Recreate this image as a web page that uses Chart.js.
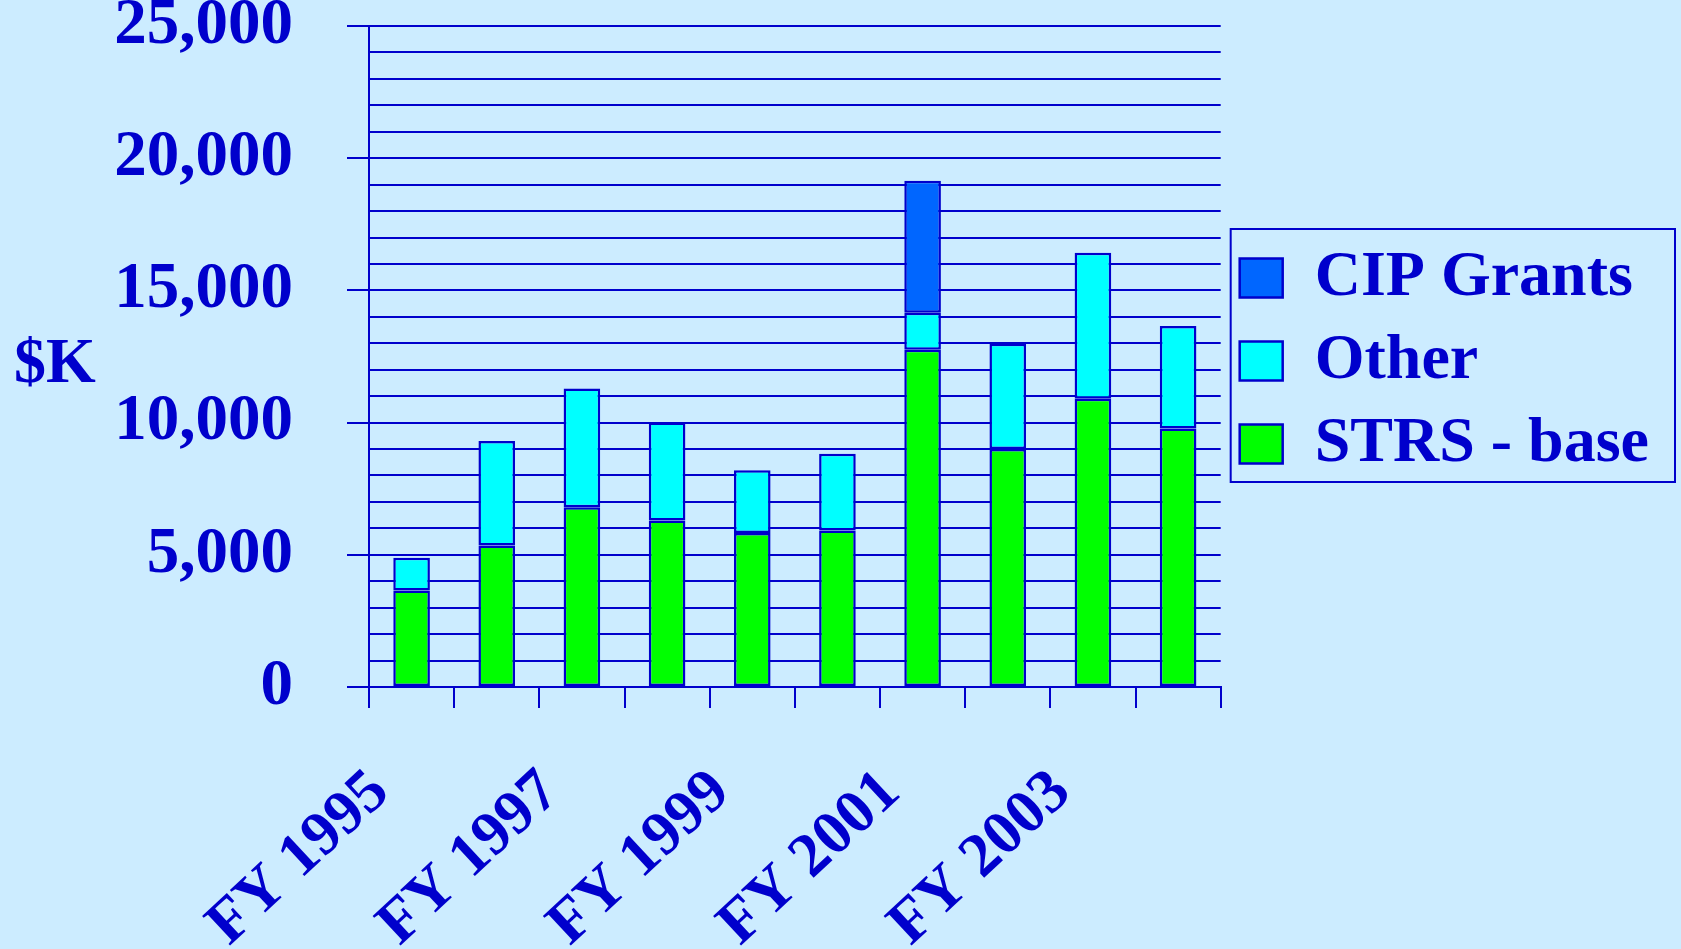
<!DOCTYPE html>
<html lang="en">
<head>
<meta charset="UTF-8">
<title>$K by fiscal year</title>
<script src="https://cdn.jsdelivr.net/npm/chart.js@4.4.1/dist/chart.umd.min.js"></script>
<style>
    html, body {
        margin: 0;
        padding: 0;
        background: #CCECFF;
        overflow: hidden;
    }
    #wrap {
        width: 1681px;
        height: 949px;
    }
</style>
</head>
<body>
<div id="wrap">
    <canvas id="myChart" width="1681" height="949"></canvas>
</div>
<script>
    // categories
    const years = ['FY 1995', 'FY 1996', 'FY 1997', 'FY 1998', 'FY 1999',
                   'FY 2000', 'FY 2001', 'FY 2002', 'FY 2003', 'FY 2004'];
    // series ($K)
    const strsBase  = [3650, 5350, 6800, 6300, 5820, 5920, 12760, 9000, 10900, 9780];
    const other     = [1240, 3950, 4490, 3700, 2380, 2900, 1390, 3980, 5520, 3870];
    const cipGrants = [null, null, null, null, null, null, 5000, null, null, null];
    // y ticks that get a label
    const yLabelTicks = [0, 5000, 10000, 15000, 20000, 25000];

    const ink = '#0000CC';
    const serif = 'Liberation Serif, Times New Roman, serif';

    // frame round the legend + the horizontal "$K" title
    const extras = {
        id: 'extras',
        afterDraw(chart) {
            const ctx = chart.ctx;
            const hb = chart.legend.legendHitBoxes;
            if (hb && hb.length) {
                const l = Math.min(...hb.map(h => h.left)) - 9;
                const t = Math.min(...hb.map(h => h.top)) - 17;
                const r = Math.max(...hb.map(h => h.left + h.width)) + 26;
                const b = Math.max(...hb.map(h => h.top + h.height)) + 6;
                ctx.save();
                ctx.strokeStyle = ink;
                ctx.lineWidth = 2;
                ctx.strokeRect(l, t, r - l, b - t);
                ctx.restore();
            }
            ctx.save();
            ctx.fillStyle = ink;
            ctx.font = 'bold 64px ' + serif;
            ctx.textAlign = 'left';
            ctx.textBaseline = 'alphabetic';
            ctx.fillText('$K', 14, 382);
            ctx.restore();
        }
    };

    const ctx = document.getElementById('myChart');
    const myChart = new Chart(ctx, {
        type: 'bar',
        data: {
            labels: years,
            datasets: [{
                label: 'STRS - base',
                data: strsBase,
                backgroundColor: '#00FF00',
                borderColor: ink,
                borderWidth: 2.5,
                borderSkipped: false
            }, {
                label: 'Other',
                data: other,
                backgroundColor: '#00FFFF',
                borderColor: ink,
                borderWidth: 2.5,
                borderSkipped: false
            }, {
                label: 'CIP Grants',
                data: cipGrants,
                backgroundColor: '#0066FF',
                borderColor: ink,
                borderWidth: 2.5,
                borderSkipped: false
            }]
        },
        options: {
            responsive: false,
            animation: false,
            layout: {
                padding: {left: 0, top: 0, right: 22, bottom: 0}
            },
            datasets: {
                bar: {
                    barPercentage: 0.43,
                    categoryPercentage: 1
                }
            },
            scales: {
                x: {
                    stacked: true,
                    // fixed axis height so the plot ends where the original does
                    afterFit: function (scale) {
                        scale.height = 262;
                    },
                    grid: {
                        offset: true,
                        drawOnChartArea: false,
                        drawTicks: true,
                        tickLength: 21,
                        color: ink,
                        lineWidth: 2
                    },
                    border: {display: true, color: ink, width: 2},
                    ticks: {
                        autoSkip: false,
                        minRotation: 43,
                        maxRotation: 43,
                        labelOffset: -31,
                        padding: 48,
                        color: ink,
                        font: {family: serif, size: 62, weight: 'bold'},
                        callback: function (value, index) {
                            return index % 2 === 0 ? this.getLabelForValue(value) : '';
                        }
                    }
                },
                y: {
                    stacked: true,
                    min: 0,
                    max: 25000,
                    // tick padding would also pad the top; keep only half a label
                    afterFit: function (scale) {
                        scale.width = 369;
                        scale.paddingTop = 26;
                        scale.paddingBottom = 26;
                    },
                    grid: {
                        color: ink,
                        lineWidth: 2,
                        drawTicks: true,
                        tickLength: 22,
                        tickColor: function (c) {
                            return c.tick && yLabelTicks.includes(c.tick.value) ? ink : 'rgba(0,0,0,0)';
                        }
                    },
                    border: {display: true, color: ink, width: 2},
                    ticks: {
                        stepSize: 1000,
                        maxTicksLimit: 40,
                        autoSkip: false,
                        padding: 54,
                        color: ink,
                        font: {family: serif, size: 65, weight: 'bold', lineHeight: 0.84},
                        callback: function (value) {
                            return yLabelTicks.includes(value) ? value.toLocaleString('en-US') : '';
                        }
                    }
                }
            },
            plugins: {
                tooltip: {enabled: false},
                legend: {
                    display: true,
                    position: 'right',
                    align: 'start',
                    reverse: true,
                    maxWidth: 520,
                    title: {
                        display: true,
                        text: ' ',
                        font: {size: 10, lineHeight: 1},
                        padding: {top: 217, bottom: 0}
                    },
                    labels: {
                        color: ink,
                        font: {family: serif, size: 64, weight: 'bold'},
                        boxWidth: 43,
                        boxHeight: 39,
                        padding: 19
                    }
                }
            }
        },
        plugins: [extras]
    });
</script>
</body>
</html>
